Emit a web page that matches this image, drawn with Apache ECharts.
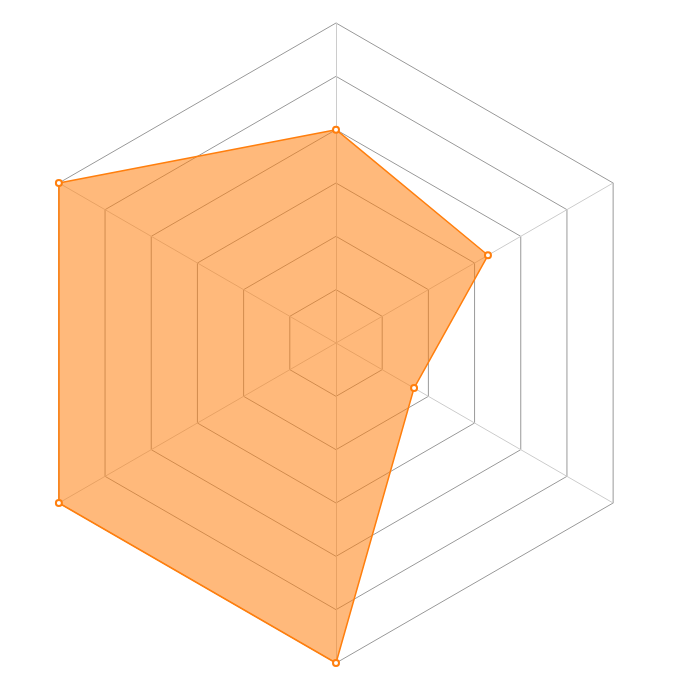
<!DOCTYPE html>
<html><head><meta charset="utf-8">
<script src="https://cdn.jsdelivr.net/npm/echarts@6/dist/echarts.min.js"></script>
<style>html,body{margin:0;padding:0;background:#fff}#c{width:688px;height:688px}</style>
</head><body><div id="c"></div>
<script>
// indicators in ECharts order: top, then counter-clockwise
const indicatorNames = ['A', 'B', 'C', 'D', 'E', 'F'];
const indicatorMax = [6, 6, 6, 6, 6, 6];
const seriesValues = [4, 6, 6, 6, 1.69, 3.29];

const chart = echarts.init(document.getElementById('c'));
chart.setOption({
  animation: false,
  radar: {
    center: [336, 343],
    radius: 320,
    splitNumber: 6,
    startAngle: 90,
    indicator: indicatorNames.map((n, i) => ({ name: n, max: indicatorMax[i], min: 0 })),
    axisName: { show: false },
    axisLine: { lineStyle: { color: '#cccccc', width: 1 } },
    splitLine: { lineStyle: { color: '#999999', width: 1 } },
    splitArea: { show: false }
  },
  series: [{
    type: 'radar',
    symbol: 'emptyCircle',
    symbolSize: 6,
    data: [{
      value: seriesValues,
      lineStyle: { color: '#ff7f0e', width: 1.5 },
      itemStyle: { color: '#ff7f0e', borderWidth: 1.5 },
      areaStyle: { color: '#ff7f0e', opacity: 0.55 }
    }]
  }]
});
</script></body></html>
